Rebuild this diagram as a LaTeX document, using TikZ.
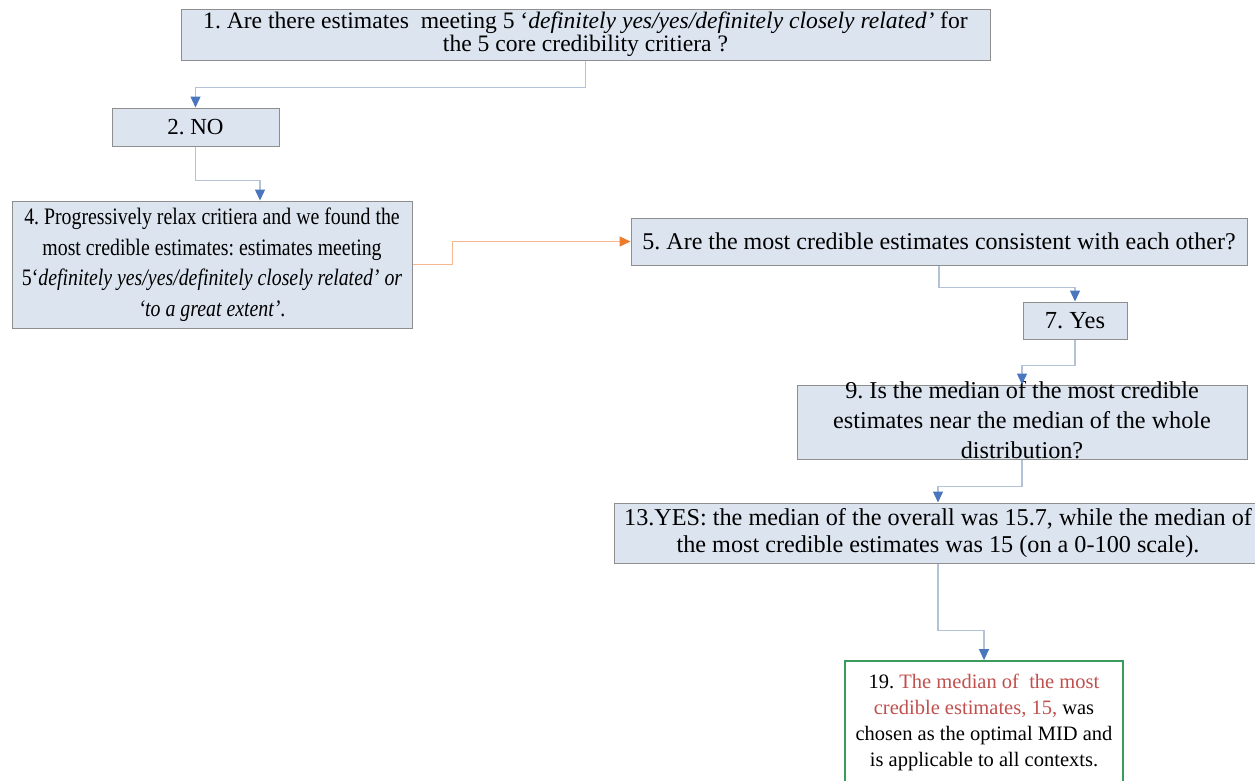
\documentclass[tikz,border=0pt]{standalone}
\usepackage{fontspec}
\setmainfont{Liberation Serif}
\newfontfamily\narrowserif[FakeStretch=0.84]{Liberation Serif}
\usetikzlibrary{arrows.meta}
\definecolor{boxfill}{HTML}{DCE4EF}
\definecolor{boxline}{HTML}{8E8E8E}
\definecolor{linkline}{HTML}{B3C2D6}
\definecolor{tipblue}{HTML}{4A76BE}
\definecolor{linkorange}{HTML}{F6B890}
\definecolor{tiporange}{HTML}{EE7A2A}
\definecolor{okgreen}{HTML}{3A9B5C}
\definecolor{pickred}{HTML}{C0504D}
\newcommand{\fs}[2]{\fontsize{#1}{#2}\selectfont}
\frenchspacing
\begin{document}
\begin{tikzpicture}[x=1pt,y=-1pt,
  stepbox/.style={draw=boxline, fill=boxfill, line width=1pt, inner sep=0pt, align=center},
  endbox/.style={draw=okgreen, fill=white, line width=1.8pt, inner sep=0pt, align=center},
  link/.style={draw=linkline, line width=1.3pt, -{Triangle[width=10pt,length=11pt,color=tipblue]}},
  olink/.style={draw=linkorange, line width=1.3pt, -{Triangle[width=10pt,length=11pt,color=tiporange]}}
]
\useasboundingbox (0,0) rectangle (1255,780);

% question and answer boxes
\node[stepbox, minimum width=809pt, minimum height=51pt, font={\fs{23.6}{23}}] (b1) at (585.5,34.5)
  {1. Are there estimates~ meeting 5 ‘\textit{definitely yes/yes/definitely closely related’} for\\
   the 5 core credibility critiera ?};
\node[stepbox, minimum width=167pt, minimum height=38pt, font={\fs{23}{24}}] (b2) at (195.5,127)
  {2. NO};
\node[stepbox, minimum width=400pt, minimum height=127pt, font={\narrowserif\fs{23.6}{30.5}}] (b4) at (212,264.5)
  {4. Progressively relax critiera and we found the\\
   most credible estimates: estimates meeting\\
   5‘\textit{definitely yes/yes/definitely closely related’ or}\\
   \textit{‘to a great extent’}.};
\node[stepbox, minimum width=616pt, minimum height=47pt, font={\fs{24}{25}}] (b5) at (939,241.5)
  {5. Are the most credible estimates consistent with each other?};
\node[stepbox, minimum width=104pt, minimum height=37pt, font={\fs{24.5}{25}}] (b7) at (1075,320.5)
  {7. Yes};
\node[stepbox, minimum width=450pt, text height=73pt, text depth=1pt, font={\fs{24.2}{30}}] (b9) at (1022,422)
  {9. Is the median of the most credible\\
   estimates near the median of the whole\\
   distribution?};
\node[stepbox, minimum width=648pt, minimum height=60pt, font={\fs{24.2}{27}}] (b13) at (938,533)
  {13.YES: the median of the overall was 15.7, while the median of\\
   the most credible estimates was 15 (on a 0-100 scale).};
\node[endbox, minimum width=278pt, minimum height=122pt, font={\fs{20.5}{26}}] (b19) at (984,722)
  {19. \textcolor{pickred}{The median of~ the most}\\
   \textcolor{pickred}{credible estimates, 15,} was\\
   chosen as the optimal MID and\\
   is applicable to all contexts.};

% connectors
\draw[link] (b1.south) -- ++(0,27) -| (b2.north);
\draw[link] (b2.south) -- ++(0,34) -| ([xshift=48pt]b4.north);
\draw[olink] (b4.east) -- ++(40,0) |- (b5.west);
\draw[link] (b5.south) -- ++(0,22) -| (b7.north);
\draw[link] (b7.south) -- ++(0,26) -| (b9.north);
\draw[link] (b9.south) -- ++(0,27) -| (b13.north);
\draw[link] (b13.south) -- ++(0,67) -| (b19.north);
\end{tikzpicture}
\end{document}
